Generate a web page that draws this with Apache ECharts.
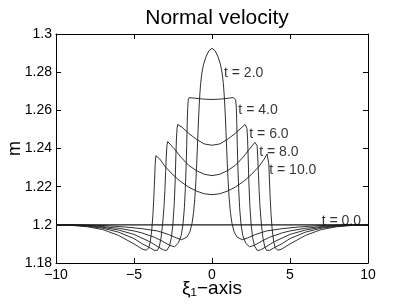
<!DOCTYPE html>
<html>
<head>
<meta charset="utf-8">
<script src="https://cdn.jsdelivr.net/npm/echarts@6/dist/echarts.min.js"></script>
<style>html,body{margin:0;padding:0;background:#fff}#c{width:407px;height:306px}</style>
</head>
<body>
<div id="c"></div>
<script>
// x ticks and y ticks
const xTicks = [-10, -5, 0, 5, 10];
const yTicks = [1.18, 1.2, 1.22, 1.24, 1.26, 1.28, 1.3];

// curves: [xi1, m]
const t0 = [[-10, 1.2], [10, 1.2]];
const t2 = [[-10,1.2],[-8.5,1.2],[-7.5,1.1998],[-6.5,1.1994],[-5.5,1.1988],[-4.5,1.1980],[-3.5,1.1968],[-2.8,1.1950],[-2.3,1.1932],[-1.95,1.1922],[-1.62,1.1935],[-1.42,1.1962],[-1.28,1.2008],[-1.18,1.2065],[-1.10,1.2140],[-1.04,1.2220],[-0.98,1.2320],[-0.92,1.2440],[-0.86,1.2560],[-0.80,1.2660],[-0.73,1.2740],[-0.65,1.2795],[-0.55,1.2838],[-0.4,1.2878],[-0.2,1.2912],
  [0,1.2925],
  [0.2,1.2912],[0.4,1.2878],[0.55,1.2838],[0.65,1.2795],[0.73,1.2740],[0.80,1.2660],[0.86,1.2560],[0.92,1.2440],[0.98,1.2320],[1.04,1.2220],[1.10,1.2140],[1.18,1.2065],[1.28,1.2008],[1.42,1.1962],[1.62,1.1935],[1.95,1.1922],[2.3,1.1932],[2.8,1.1950],[3.5,1.1968],[4.5,1.1980],[5.5,1.1988],[6.5,1.1994],[7.5,1.1998],[8.5,1.2],[10,1.2]];
const t4 = [[-10,1.2],[-9,1.2],[-8,1.1997],[-7,1.1991],[-6,1.1982],[-5,1.1968],[-4.5,1.1958],[-3.7,1.1935],[-3.2,1.1915],[-2.7,1.1892],[-2.4,1.1885],[-2.15,1.1905],[-1.97,1.1945],[-1.85,1.2010],[-1.77,1.2090],[-1.71,1.2190],[-1.66,1.2300],[-1.62,1.2420],[-1.59,1.2530],[-1.56,1.2610],[-1.52,1.2655],[-1.47,1.2666],[-1.35,1.2667],[-1.1,1.2664],[-0.8,1.2661],[-0.4,1.2658],
  [0,1.2657],
  [0.4,1.2658],[0.8,1.2661],[1.1,1.2664],[1.35,1.2667],[1.47,1.2666],[1.52,1.2655],[1.56,1.2610],[1.59,1.2530],[1.62,1.2420],[1.66,1.2300],[1.71,1.2190],[1.77,1.2090],[1.85,1.2010],[1.97,1.1945],[2.15,1.1905],[2.4,1.1885],[2.7,1.1892],[3.2,1.1915],[3.7,1.1935],[4.5,1.1958],[5,1.1968],[6,1.1982],[7,1.1991],[8,1.1997],[9,1.2],[10,1.2]];
const t6 = [[-10,1.2],[-9,1.1999],[-8,1.1995],[-7,1.1987],[-6,1.1973],[-5,1.1950],[-4,1.1912],[-3.4,1.1882],[-3.1,1.1868],[-2.9,1.1866],[-2.72,1.1890],[-2.60,1.1935],[-2.50,1.2010],[-2.42,1.2110],[-2.36,1.2230],[-2.32,1.2350],[-2.28,1.2450],[-2.24,1.2505],[-2.2,1.2526],[-2.12,1.2526],[-1.9,1.2510],[-1.5,1.2480],[-1.0,1.2448],[-0.5,1.2424],
  [0,1.2417],
  [0.5,1.2424],[1.0,1.2448],[1.5,1.2480],[1.9,1.2510],[2.12,1.2526],[2.2,1.2526],[2.24,1.2505],[2.28,1.2450],[2.32,1.2350],[2.36,1.2230],[2.42,1.2110],[2.50,1.2010],[2.60,1.1935],[2.72,1.1890],[2.9,1.1866],[3.1,1.1868],[3.4,1.1882],[4,1.1912],[5,1.1950],[6,1.1973],[7,1.1987],[8,1.1995],[9,1.1999],[10,1.2]];
const t8 = [[-10,1.2],[-9,1.1998],[-8,1.1993],[-7,1.1982],[-6,1.1962],[-5,1.1928],[-4.5,1.1902],[-3.95,1.1878],[-3.7,1.1867],[-3.5,1.1866],[-3.38,1.1885],[-3.26,1.1935],[-3.16,1.2010],[-3.08,1.2090],[-3.02,1.2180],[-2.97,1.2280],[-2.93,1.2360],[-2.89,1.2415],[-2.84,1.2436],[-2.75,1.2432],[-2.4,1.2397],[-2.0,1.2355],[-1.5,1.2312],[-1.0,1.2284],[-0.5,1.2265],
  [0,1.2258],
  [0.5,1.2265],[1.0,1.2284],[1.5,1.2312],[2.0,1.2355],[2.4,1.2397],[2.75,1.2432],[2.84,1.2436],[2.89,1.2415],[2.93,1.2360],[2.97,1.2280],[3.02,1.2180],[3.08,1.2090],[3.16,1.2010],[3.26,1.1935],[3.38,1.1885],[3.5,1.1866],[3.7,1.1867],[3.95,1.1878],[4.5,1.1902],[5,1.1928],[6,1.1962],[7,1.1982],[8,1.1993],[9,1.1998],[10,1.2]];
const t10 = [[-10,1.2],[-9,1.1997],[-8,1.1990],[-7,1.1975],[-6,1.1945],[-5,1.1900],[-4.45,1.1872],[-4.2,1.1867],[-4.05,1.1880],[-3.95,1.1915],[-3.86,1.1975],[-3.79,1.2050],[-3.73,1.2140],[-3.68,1.2240],[-3.64,1.2320],[-3.6,1.2362],[-3.53,1.2371],[-3.35,1.2345],[-3.0,1.2305],[-2.5,1.2262],[-2.0,1.2226],[-1.5,1.2198],[-1.0,1.2177],[-0.5,1.2163],
  [0,1.2158],
  [0.5,1.2163],[1.0,1.2177],[1.5,1.2198],[2.0,1.2226],[2.5,1.2262],[3.0,1.2305],[3.35,1.2345],[3.53,1.2371],[3.6,1.2362],[3.64,1.2320],[3.68,1.2240],[3.73,1.2140],[3.79,1.2050],[3.86,1.1975],[3.95,1.1915],[4.05,1.1880],[4.2,1.1867],[4.45,1.1872],[5,1.1900],[6,1.1945],[7,1.1975],[8,1.1990],[9,1.1997],[10,1.2]];

// curve labels: [x, y, text]
const labelX = [0.77, 1.69, 2.39, 3.03, 3.67, 7.03];
const labelY = [1.2797, 1.2601, 1.2474, 1.2383, 1.2284, 1.2017];
const labelText = ['t = 2.0', 't = 4.0', 't = 6.0', 't = 8.0', 't = 10.0', 't = 0.0'];

const FONT = 'Liberation Sans, Arial, Helvetica, sans-serif';
const chart = echarts.init(document.getElementById('c'), null, {renderer: 'canvas'});
const lineSeries = (d, w) => ({
  type: 'line', data: d, showSymbol: false, symbol: 'none', animation: false,
  xAxisIndex: 0, yAxisIndex: 0,
  lineStyle: {color: '#1a1a1a', width: w}, z: 3
});
const fmtX = v => (v < 0 ? '\u2212' + (-v) : String(v));
const fmtY = v => String(parseFloat(v.toFixed(2)));
const tickStyle = {show: true, inside: true, length: 5, lineStyle: {color: '#000', width: 1}};
chart.setOption({
  animation: false,
  backgroundColor: '#fff',
  title: {
    text: 'Normal velocity', left: 212, top: 3, textAlign: 'center',
    textStyle: {fontFamily: FONT, fontSize: 21, fontWeight: 'normal', color: '#000'}
  },
  grid: {left: 56, right: 39, top: 34, bottom: 43, containLabel: false, outerBoundsMode: 'none'},
  xAxis: [{
    type: 'value', position: 'bottom', min: xTicks[0], max: xTicks[xTicks.length - 1], interval: 5,
    axisLine: {show: true, onZero: false, lineStyle: {color: '#000', width: 1}},
    axisTick: tickStyle,
    axisLabel: {color: '#000', fontSize: 14, fontFamily: FONT, margin: 5, formatter: fmtX},
    splitLine: {show: false},
    name: '\u03BE\u2081\u2212axis', nameLocation: 'middle', nameGap: 16, nameMoveOverlap: false,
    nameTextStyle: {fontFamily: FONT, fontSize: 19, color: '#000'}
  }, {
    type: 'value', position: 'top', min: xTicks[0], max: xTicks[xTicks.length - 1], interval: 5,
    axisLine: {show: true, onZero: false, lineStyle: {color: '#000', width: 1}},
    axisTick: tickStyle, axisLabel: {show: false}, splitLine: {show: false}
  }],
  yAxis: [{
    type: 'value', position: 'left', min: yTicks[0], max: yTicks[yTicks.length - 1], interval: 0.02,
    axisLine: {show: true, onZero: false, lineStyle: {color: '#000', width: 1}},
    axisTick: tickStyle,
    axisLabel: {color: '#000', fontSize: 14, fontFamily: FONT, margin: 4, formatter: fmtY},
    splitLine: {show: false},
    name: 'm', nameLocation: 'middle', nameGap: 32, nameRotate: 90, nameMoveOverlap: false,
    nameTextStyle: {fontFamily: FONT, fontSize: 18, color: '#000'}
  }, {
    type: 'value', position: 'right', min: yTicks[0], max: yTicks[yTicks.length - 1], interval: 0.02,
    axisLine: {show: true, onZero: false, lineStyle: {color: '#000', width: 1}},
    axisTick: tickStyle, axisLabel: {show: false}, splitLine: {show: false}
  }],
  series: [
    lineSeries(t0, 1.2),
    lineSeries(t2, 0.9),
    lineSeries(t4, 0.9),
    lineSeries(t6, 0.9),
    lineSeries(t8, 0.9),
    lineSeries(t10, 0.9),
    {
      type: 'scatter', xAxisIndex: 0, yAxisIndex: 0, symbolSize: 0, animation: false, z: 5,
      data: labelX.map((x, i) => [x, labelY[i], labelText[i]]),
      label: {
        show: true, position: 'right', distance: 0, color: '#000', fontSize: 14, fontFamily: FONT,
        formatter: p => p.value[2]
      }
    }
  ]
});
</script>
</body>
</html>
